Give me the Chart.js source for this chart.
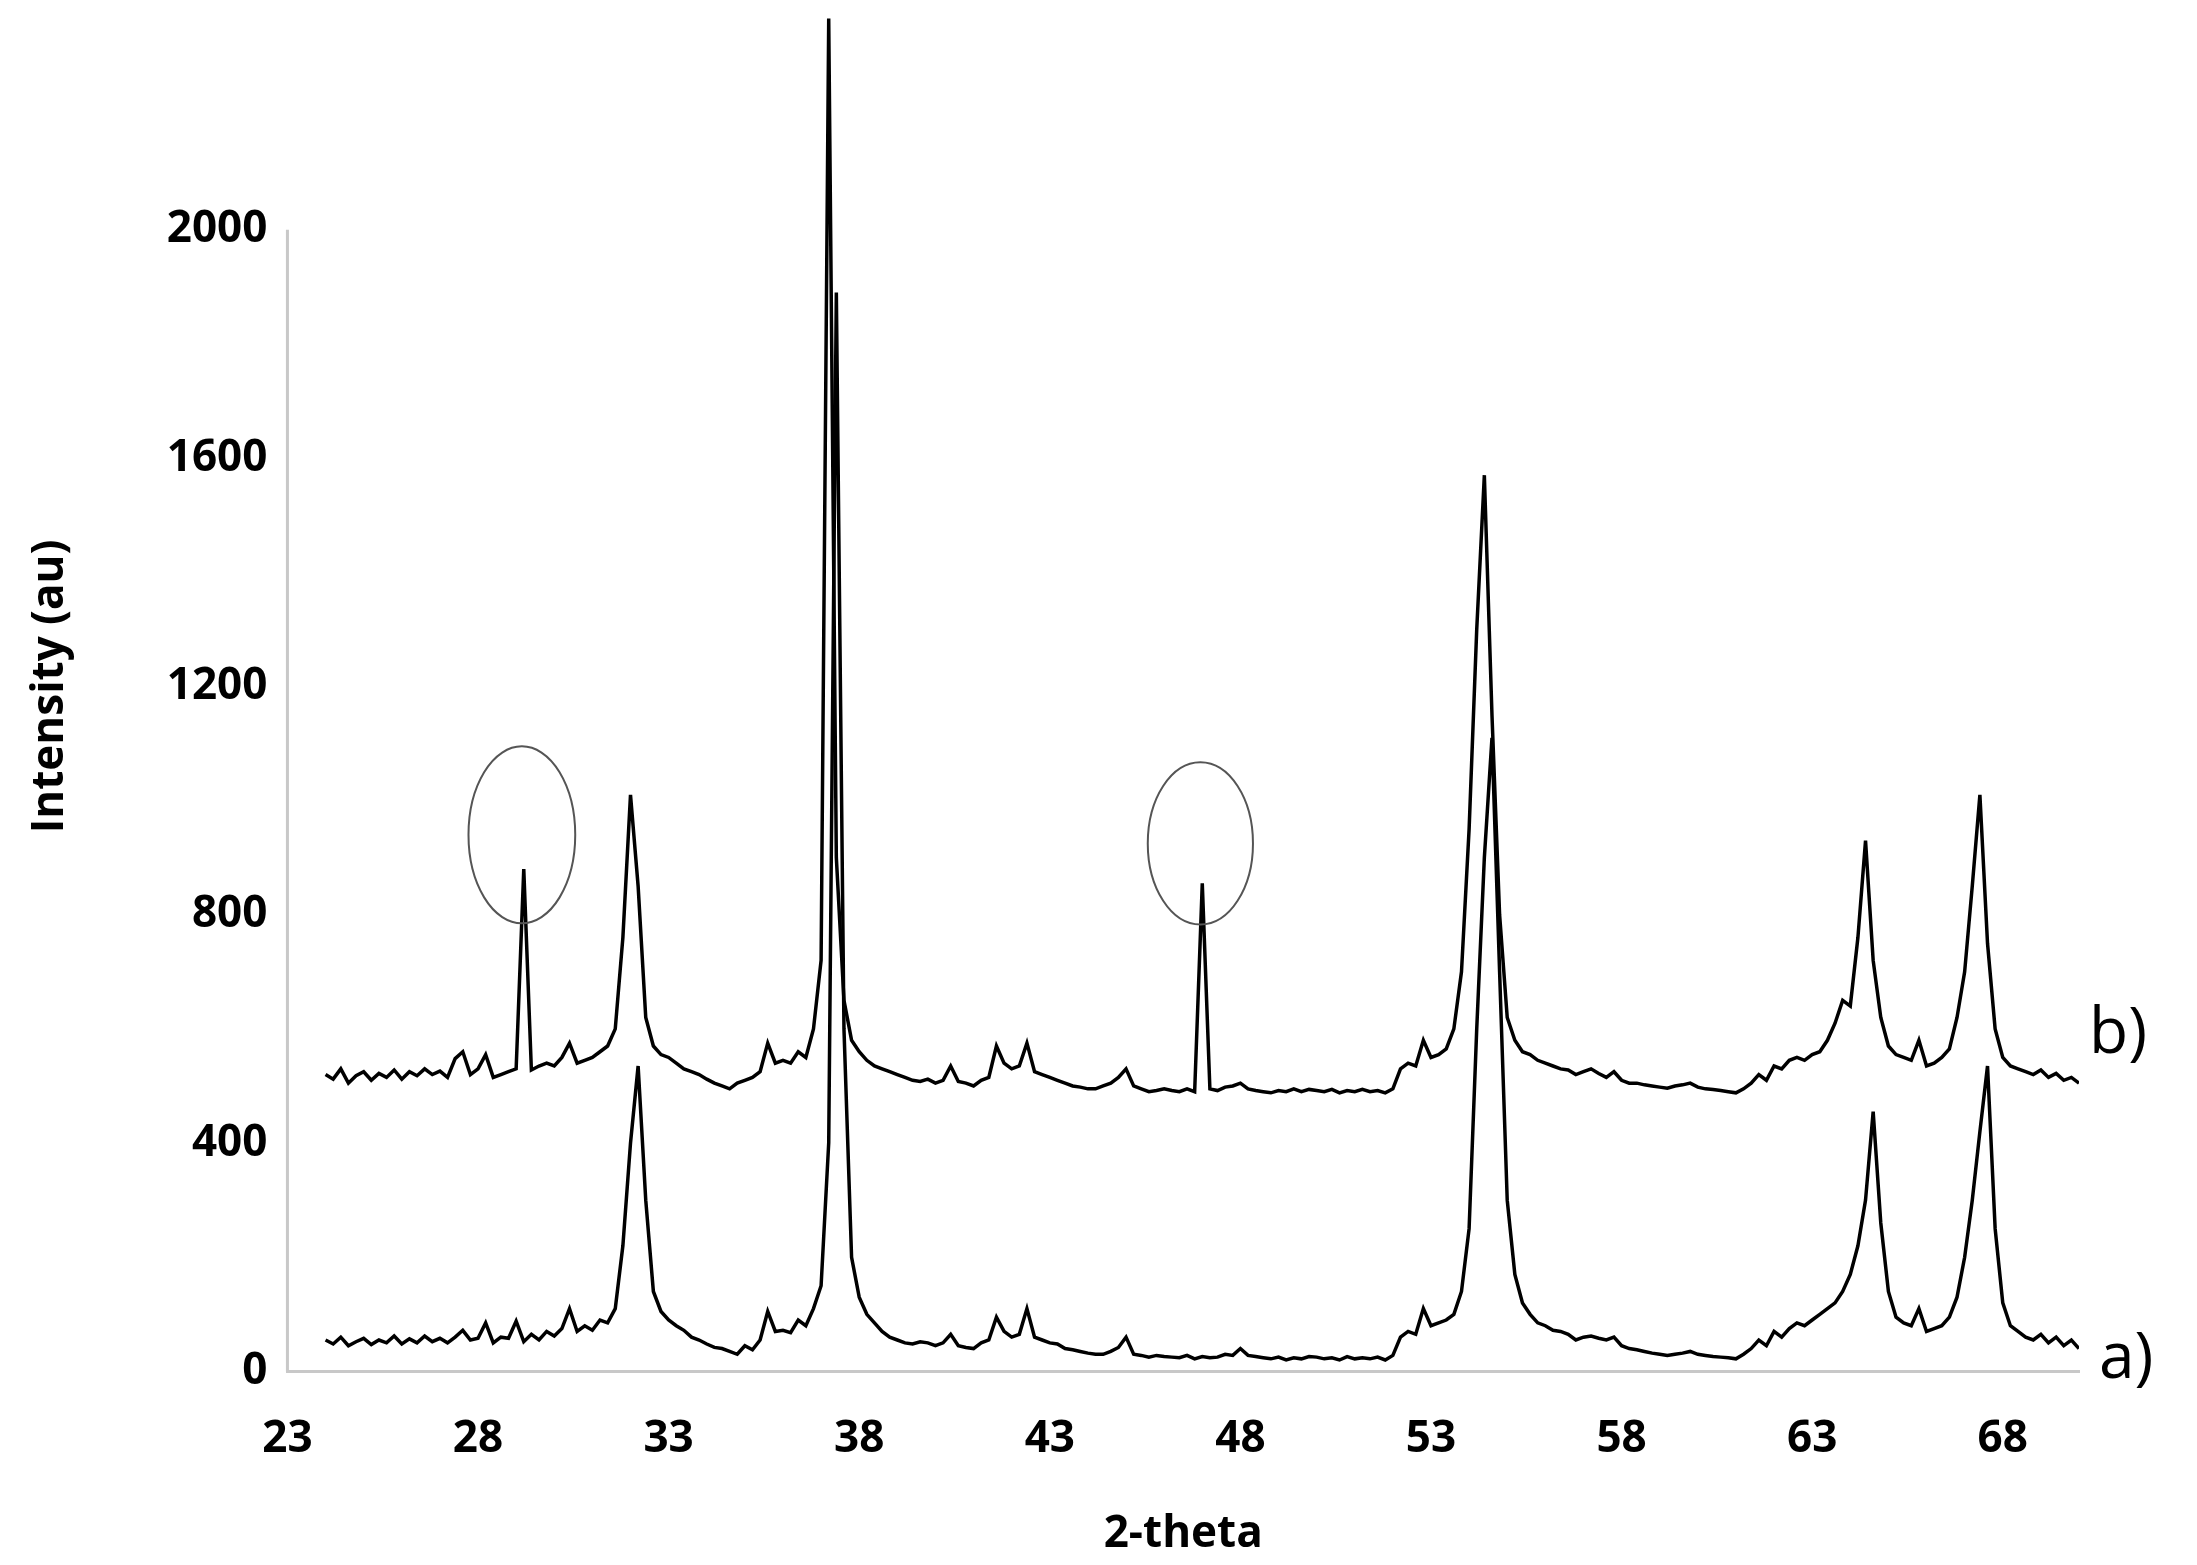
<!DOCTYPE html>
<html>
<head>
<meta charset="utf-8">
<script src="https://cdn.jsdelivr.net/npm/chart.js@4.4.1/dist/chart.umd.min.js"></script>
<style>
  html, body { margin: 0; padding: 0; background: #fff; overflow: hidden; }
  #wrap { width: 2197px; height: 1610px; position: relative; margin-top: -45px; }
</style>
</head>
<body>
<div id="wrap"><canvas id="xrd"></canvas></div>
<script>
// 2-theta sampling positions
const twoTheta = [
  24.0,24.2,24.4,24.6,24.8,25.0,25.2,25.4,25.6,25.8,
  26.0,26.2,26.4,26.6,26.8,27.0,27.2,27.4,27.6,27.8,
  28.0,28.2,28.4,28.6,28.8,29.0,29.2,29.4,29.6,29.8,
  30.0,30.2,30.4,30.6,30.8,31.0,31.2,31.4,31.6,31.8,
  32.0,32.2,32.4,32.6,32.8,33.0,33.2,33.4,33.6,33.8,
  34.0,34.2,34.4,34.6,34.8,35.0,35.2,35.4,35.6,35.8,
  36.0,36.2,36.4,36.6,36.8,37.0,37.2,37.4,37.6,37.8,
  38.0,38.2,38.4,38.6,38.8,39.0,39.2,39.4,39.6,39.8,
  40.0,40.2,40.4,40.6,40.8,41.0,41.2,41.4,41.6,41.8,
  42.0,42.2,42.4,42.6,42.8,43.0,43.2,43.4,43.6,43.8,
  44.0,44.2,44.4,44.6,44.8,45.0,45.2,45.4,45.6,45.8,
  46.0,46.2,46.4,46.6,46.8,47.0,47.2,47.4,47.6,47.8,
  48.0,48.2,48.4,48.6,48.8,49.0,49.2,49.4,49.6,49.8,
  50.0,50.2,50.4,50.6,50.8,51.0,51.2,51.4,51.6,51.8,
  52.0,52.2,52.4,52.6,52.8,53.0,53.2,53.4,53.6,53.8,
  54.0,54.2,54.4,54.6,54.8,55.0,55.2,55.4,55.6,55.8,
  56.0,56.2,56.4,56.6,56.8,57.0,57.2,57.4,57.6,57.8,
  58.0,58.2,58.4,58.6,58.8,59.0,59.2,59.4,59.6,59.8,
  60.0,60.2,60.4,60.6,60.8,61.0,61.2,61.4,61.6,61.8,
  62.0,62.2,62.4,62.6,62.8,63.0,63.2,63.4,63.6,63.8,
  64.0,64.2,64.4,64.6,64.8,65.0,65.2,65.4,65.6,65.8,
  66.0,66.2,66.4,66.6,66.8,67.0,67.2,67.4,67.6,67.8,
  68.0,68.2,68.4,68.6,68.8,69.0,69.2,69.4,69.6,69.8,
  70.0
];

// pattern a)
const intensityA = [
  55,48,60,45,52,58,47,55,50,62,
  48,57,50,62,52,58,50,60,72,55,
  58,85,50,60,58,88,52,65,55,70,
  62,75,110,70,80,72,90,85,110,220,
  400,535,300,140,105,90,80,72,60,55,
  48,42,40,35,30,45,38,55,105,70,
  72,68,90,80,110,150,400,1890,600,200,
  130,100,85,70,60,55,50,48,52,50,
  45,50,65,45,42,40,50,55,95,70,
  60,65,110,60,55,50,48,40,38,35,
  32,30,30,35,42,60,30,28,25,28,
  26,25,24,28,22,26,24,25,30,28,
  40,28,26,24,22,25,20,24,22,26,
  25,22,24,20,26,22,24,22,25,20,
  28,60,70,65,110,80,85,90,100,140,
  250,600,900,1110,700,300,170,120,100,85,
  80,72,70,65,55,60,62,58,55,60,
  45,40,38,35,32,30,28,30,32,35,
  30,28,26,25,24,22,30,40,55,45,
  70,60,75,85,80,90,100,110,120,140,
  170,220,300,455,260,140,95,85,80,110,
  70,75,80,95,130,200,300,420,535,250,
  120,80,70,60,55,65,50,60,45,55,
  40
];

// pattern b)
const intensityB = [
  520,512,530,505,518,525,510,522,515,528,
  512,525,518,530,520,526,515,548,560,520,
  530,555,515,520,525,530,880,528,535,540,
  535,550,575,540,545,550,560,570,600,760,
  1010,850,620,570,555,550,540,530,525,520,
  512,505,500,495,505,510,515,525,575,540,
  545,540,560,550,600,720,2370,900,650,580,
  560,545,535,530,525,520,515,510,508,512,
  505,510,535,508,505,500,510,515,570,540,
  530,535,575,525,520,515,510,505,500,498,
  495,495,500,505,515,530,500,495,490,492,
  495,492,490,495,490,855,495,492,498,500,
  505,495,492,490,488,492,490,495,490,494,
  492,490,494,488,492,490,494,490,492,488,
  495,530,540,535,580,550,555,565,600,700,
  950,1300,1570,1150,800,620,580,560,555,545,
  540,535,530,528,520,525,530,522,515,525,
  510,505,505,502,500,498,496,500,502,505,
  498,495,494,492,490,488,495,505,520,510,
  535,530,545,550,545,555,560,580,610,650,
  640,760,930,720,620,570,555,550,545,580,
  535,540,550,565,620,700,850,1010,750,600,
  550,535,530,525,520,528,515,522,510,515,
  505
];

const seriesLabels = ["a)", "b)"];
const xTicks = [23, 28, 33, 38, 43, 48, 53, 58, 63, 68];
const yTicks = [0, 400, 800, 1200, 1600, 2000];

// circled spikes in b): [2-theta centre, intensity centre, half width (deg), half height (au)]
const circles = [
  [29.15, 940, 1.4, 155],
  [46.95, 925, 1.38, 142]
];

const FONT = "'Open Sans', 'Liberation Sans', sans-serif";

function points(ys) {
  return twoTheta.map((x, i) => ({ x: x, y: ys[i] }));
}

// ellipses, y axis line up to 2000 and a)/b) tags
const extras = {
  id: "extras",
  afterDatasetsDraw(chart) {
    const ctx = chart.ctx;
    const xs = chart.scales.x, ys = chart.scales.y;
    ctx.save();
    ctx.strokeStyle = "#555";
    ctx.lineWidth = 2;
    circles.forEach(c => {
      const cx = xs.getPixelForValue(c[0]);
      const cy = ys.getPixelForValue(c[1]);
      const rx = xs.getPixelForValue(c[0] + c[2]) - cx;
      const ry = cy - ys.getPixelForValue(c[1] + c[3]);
      ctx.beginPath();
      ctx.ellipse(cx, cy, rx, ry, 0, 0, Math.PI * 2);
      ctx.stroke();
    });

    // y axis line only up to 2000
    ctx.strokeStyle = "#c8c8c8";
    ctx.lineWidth = 3;
    ctx.beginPath();
    ctx.moveTo(chart.chartArea.left, ys.getPixelForValue(0));
    ctx.lineTo(chart.chartArea.left, ys.getPixelForValue(2000));
    ctx.stroke();

    ctx.fillStyle = "#000";
    ctx.font = "64px " + FONT;
    ctx.textBaseline = "middle";
    ctx.fillText(seriesLabels[0], chart.chartArea.right + 20, ys.getPixelForValue(20));
    ctx.fillText(seriesLabels[1], chart.chartArea.right + 10, ys.getPixelForValue(590));
    ctx.restore();
  }
};

new Chart(document.getElementById("xrd"), {
  type: "line",
  data: {
    datasets: [
      { label: seriesLabels[0], data: points(intensityA), borderColor: "#000", borderWidth: 3.5, pointRadius: 0, tension: 0 },
      { label: seriesLabels[1], data: points(intensityB), borderColor: "#000", borderWidth: 3.5, pointRadius: 0, tension: 0 }
    ]
  },
  options: {
    responsive: true,
    maintainAspectRatio: false,
    animation: false,
    layout: { padding: { left: 20, right: 118, top: 0, bottom: 0 } },
    plugins: { legend: { display: false }, tooltip: { enabled: false } },
    scales: {
      x: {
        type: "linear",
        min: 23,
        max: 70,
        grid: { display: false, drawTicks: false },
        border: { display: true, color: "#c8c8c8", width: 3 },
        afterBuildTicks: s => { s.ticks = xTicks.map(v => ({ value: v })); },
        ticks: { padding: 42, autoSkip: false, maxRotation: 0, color: "#000", font: { family: FONT, size: 44, weight: "bold" } },
        title: { display: true, text: "2-theta", color: "#000", padding: { top: 0 }, font: { family: FONT, size: 44, weight: "bold" } }
      },
      y: {
        min: 0,
        max: 2400,
        grid: { display: false, drawTicks: false },
        border: { display: false },
        afterBuildTicks: s => { s.ticks = yTicks.map(v => ({ value: v })); },
        ticks: { padding: 20, color: "#000", callback: v => String(v), font: { family: FONT, size: 44, weight: "bold" } },
        title: { display: true, text: "Intensity (au)", color: "#000", padding: { bottom: 70 }, font: { family: FONT, size: 44, weight: "bold" } }
      }
    }
  },
  plugins: [extras]
});
</script>
</body>
</html>
